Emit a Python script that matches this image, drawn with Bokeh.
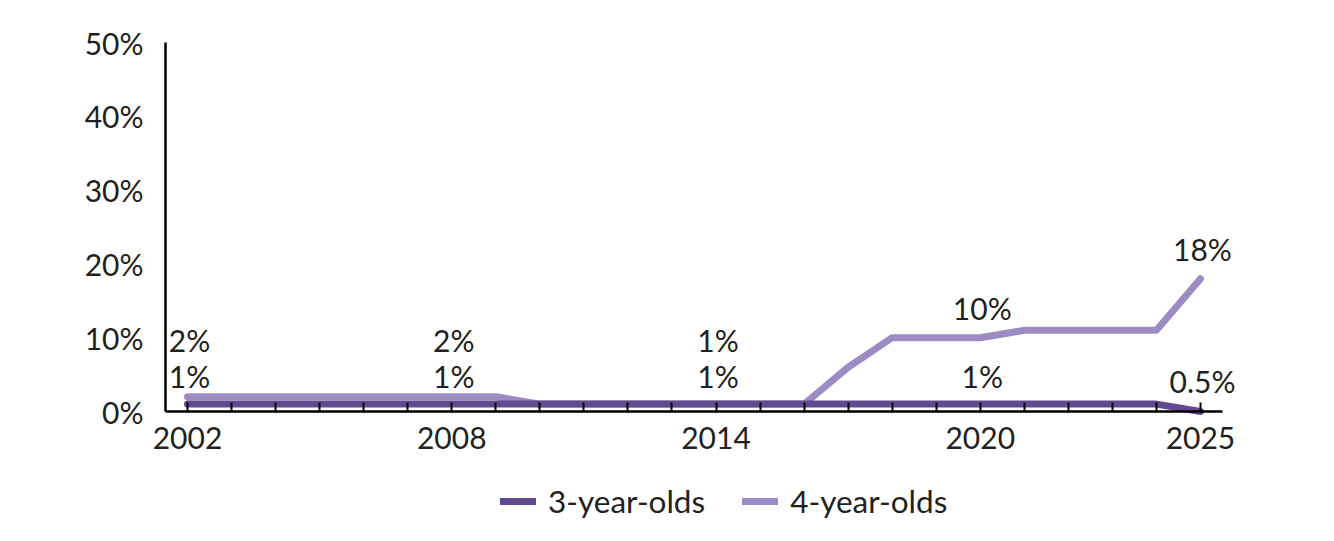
from bokeh.plotting import figure
from bokeh.models import ColumnDataSource, FixedTicker, Legend, LegendItem, Range1d
from bokeh.core.properties import value
from bokeh.embed import file_html
from bokeh.resources import INLINE

# ---- data ----
years = [2002, 2003, 2004, 2005, 2006, 2007, 2008, 2009, 2010, 2011, 2012, 2013,
         2014, 2015, 2016, 2017, 2018, 2019, 2020, 2021, 2022, 2023, 2024, 2025]
three_year_olds = [1, 1, 1, 1, 1, 1, 1, 1, 1, 1, 1, 1,
                   1, 1, 1, 1, 1, 1, 1, 1, 1, 1, 1, 0]
four_year_olds = [2, 2, 2, 2, 2, 2, 2, 2, 1, 1, 1, 1,
                  1, 1, 1, 6, 10, 10, 10, 11, 11, 11, 11, 18]

label_years = [2002, 2008, 2014, 2020, 2025]
three_labels = ["1%", "1%", "1%", "1%", "0.5%"]
four_labels = ["2%", "2%", "1%", "10%", "18%"]

y_ticks = [0, 10, 20, 30, 40, 50]
y_tick_labels = ["0%", "10%", "20%", "30%", "40%", "50%"]
x_label_years = [2002, 2008, 2014, 2020, 2025]

# ---- style ----
DARK = "#624a90"
LIGHT = "#9d8cc3"
TXT = "#231f20"
FONT = "Lato"
FS = "30px"
LEG_FS = "31.5px"

W, H = 1318, 525
AX_L, AX_R = 165, 1222   # pixel columns of the axis extent
TOP, ZERO = 42, 411      # pixel rows of 50% and 0%
X_LO, X_HI = 2001.5, 2025.5
ppx = (AX_R - AX_L) / (X_HI - X_LO)
ppy = (ZERO - TOP) / 50.0
x_start = X_LO - AX_L / ppx
x_end = X_HI + (W - AX_R) / ppx
y_start = -(H - ZERO) / ppy
y_end = 50 + TOP / ppy

p = figure(width=W, height=H, output_backend="svg", toolbar_location=None,
           x_range=Range1d(x_start, x_end), y_range=Range1d(y_start, y_end),
           min_border_left=0, min_border_right=0, min_border_top=0,
           min_border_bottom=0)
p.outline_line_color = None
p.grid.visible = False
p.background_fill_color = "white"
p.border_fill_color = "white"

src = ColumnDataSource(dict(x=years, a=three_year_olds, b=four_year_olds))
r3 = p.line("x", "a", source=src, line_color=DARK, line_width=7,
            line_cap="round", line_join="round")
r4 = p.line("x", "b", source=src, line_color=LIGHT, line_width=7,
            line_cap="round", line_join="round")
p.renderers = [r4, r3]

# data labels
lab3_y, lab3_off, lab4_y, lab4_off = [], [], [], []
for yr in label_years:
    i = years.index(yr)
    a, b = three_year_olds[i], four_year_olds[i]
    lab3_y.append(a)
    lab3_off.append(-28 if a > 0 else -31)
    if b - a < 3:
        lab4_y.append(a)
        lab4_off.append(-64)
    else:
        lab4_y.append(b)
        lab4_off.append(-30)

lsrc = ColumnDataSource(dict(x=label_years, y3=lab3_y, o3=lab3_off, t3=three_labels,
                             y4=lab4_y, o4=lab4_off, t4=four_labels))
common = dict(text_font=value(FONT), text_font_size=FS, text_color=TXT,
              text_align="center", text_baseline="middle")
p.text(x="x", y="y3", text="t3", y_offset="o3", x_offset=2, source=lsrc, **common)
p.text(x="x", y="y4", text="t4", y_offset="o4", x_offset=2, source=lsrc, **common)

# axes
xa = p.xaxis[0]
xa.fixed_location = 0
xa.bounds = (X_LO, X_HI)
xa.ticker = FixedTicker(ticks=years, minor_ticks=[])
xa.major_label_overrides = {y: (str(y) if y in x_label_years else "") for y in years}
xa.axis_line_color = "black"
xa.axis_line_width = 2.5
xa.major_tick_line_color = "black"
xa.major_tick_line_width = 2
xa.major_tick_in = 9
xa.major_tick_out = 0
xa.minor_tick_line_color = None
xa.major_label_standoff = 15
xa.major_label_text_font = FONT
xa.major_label_text_font_size = FS
xa.major_label_text_color = TXT

ya = p.yaxis[0]
ya.fixed_location = X_LO
ya.bounds = (0, 50)
ya.ticker = FixedTicker(ticks=y_ticks, minor_ticks=[])
ya.major_label_overrides = {t: l for t, l in zip(y_ticks, y_tick_labels)}
ya.axis_line_color = "black"
ya.axis_line_width = 2.5
ya.major_tick_line_color = None
ya.minor_tick_line_color = None
ya.major_label_standoff = 16
ya.major_label_text_font = FONT
ya.major_label_text_font_size = FS
ya.major_label_text_color = TXT

legend = Legend(items=[LegendItem(label="3-year-olds", renderers=[r3]),
                       LegendItem(label="4-year-olds", renderers=[r4])],
                orientation="horizontal", location=(500, 5),
                label_text_font=FONT, label_text_font_size=LEG_FS, label_text_color=TXT,
                glyph_width=36, glyph_height=30, label_standoff=12, spacing=37,
                padding=0, margin=0, border_line_color=None,
                background_fill_alpha=0)
p.add_layout(legend, "center")

open("out.html", "w").write(file_html(p, INLINE))
